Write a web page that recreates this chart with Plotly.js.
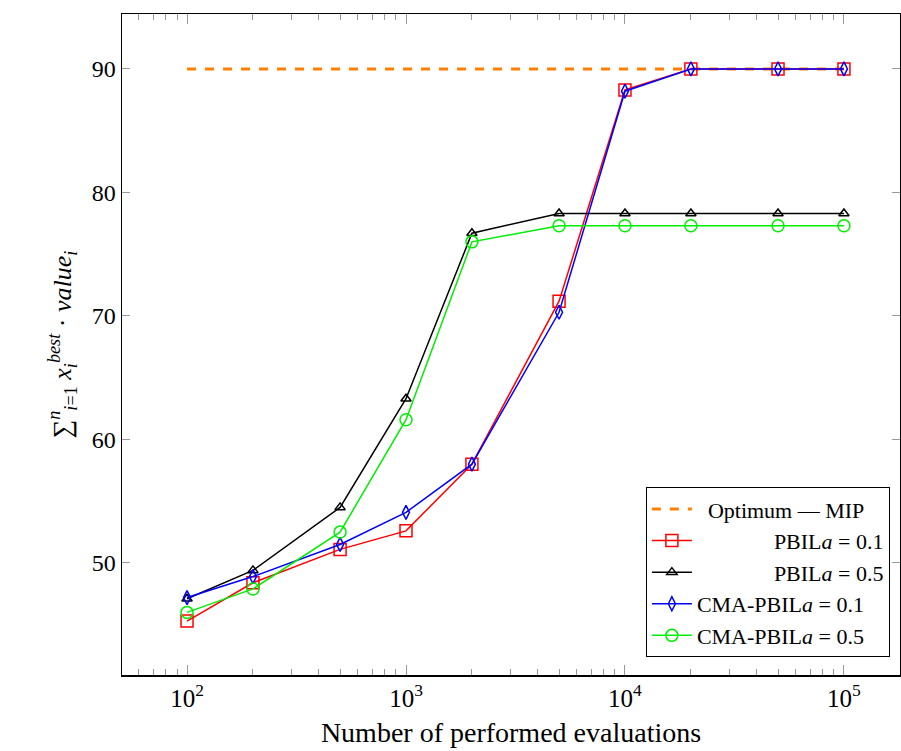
<!DOCTYPE html>
<html>
<head>
<meta charset="utf-8">
<script src="https://cdn.plot.ly/plotly-3.0.1.min.js"></script>
<style>body{margin:0;padding:0;background:#fff;}#chart{width:901px;height:751px;}</style>
</head>
<body>
<div id="chart"></div>
<script>
const evaluations = [100, 200, 500, 1000, 2000, 5000, 10000, 20000, 50000, 100000];
const optimumX = [100, 100000];
const optimumY = [90, 90];
const pbil01 = [45.3, 48.4, 51.1, 52.6, 58.0, 71.2, 88.3, 90.0, 90.0, 90.0];
const pbil05 = [47.1, 49.4, 54.5, 63.3, 76.7, 78.3, 78.3, 78.3, 78.3, 78.3];
const cma01 = [47.2, 48.9, 51.5, 54.1, 58.0, 70.3, 88.2, 90.0, 90.0, 90.0];
const cma05 = [46.0, 47.9, 52.5, 61.6, 76.0, 77.3, 77.3, 77.3, 77.3, 77.3];
const xTickVals = [100, 1000, 10000, 100000];
const xTickText = ['10<sup>2</sup>', '10<sup>3</sup>', '10<sup>4</sup>', '10<sup>5</sup>'];
const yTickVals = [50, 60, 70, 80, 90];
const minorX = [];
[10, 100, 1000, 10000, 100000].forEach(d => { for (let k = 2; k <= 9; k++) minorX.push(d * k); });

const font = 'Liberation Serif, DejaVu Serif, serif';
const nb = '\u00a0';
const traces = [
  {x: optimumX, y: optimumY, mode: 'lines', name: nb + nb + 'Optimum — MIP',
   line: {color: '#ff8000', width: 3, dash: 'dash'}},
  {x: evaluations, y: pbil01, mode: 'lines+markers', name: nb.repeat(14) + 'PBIL<i>a</i> = 0.1',
   line: {color: '#ff0000', width: 1.5}, marker: {symbol: 'square-open', size: 12, color: '#ff0000', line: {width: 1.5}}},
  {x: evaluations, y: pbil05, mode: 'lines+markers', name: nb.repeat(14) + 'PBIL<i>a</i> = 0.5',
   line: {color: '#000000', width: 1.5}, marker: {symbol: 'triangle-up-open', size: 9, color: '#000000', line: {width: 1.5}}},
  {x: evaluations, y: cma01, mode: 'lines+markers', name: 'CMA-PBIL<i>a</i> = 0.1',
   line: {color: '#0000ff', width: 1.5}, marker: {symbol: 'diamond-tall-open', size: 10, color: '#0000ff', line: {width: 1.5}}},
  {x: evaluations, y: cma05, mode: 'lines+markers', name: 'CMA-PBIL<i>a</i> = 0.5',
   line: {color: '#00ee00', width: 1.5}, marker: {symbol: 'circle-open', size: 12, color: '#00ee00', line: {width: 1.5}}}
];

const layout = {
  width: 901, height: 751,
  margin: {l: 122, r: 1, t: 14, b: 76, autoexpand: false},
  paper_bgcolor: '#fff', plot_bgcolor: '#fff',
  font: {family: font, color: '#000', size: 22},
  showlegend: true,
  legend: {x: 0.987, y: 0.027, xanchor: 'right', yanchor: 'bottom',
           bordercolor: '#000', borderwidth: 1, bgcolor: '#fff',
           font: {family: font, size: 22}, tracegroupgap: 0, itemwidth: 40},
  xaxis: {
    type: 'log', range: [Math.log10(100) - 0.297, 5.256], automargin: false,
    tickmode: 'array', tickvals: xTickVals, ticktext: xTickText,
    ticks: 'inside', ticklen: 10, tickcolor: '#999', tickwidth: 1,
    minor: {tickmode: 'array', tickvals: minorX, ticks: 'inside', ticklen: 6, tickcolor: '#999', tickwidth: 1, showgrid: false},
    showline: true, linecolor: '#000', linewidth: 1.5, mirror: 'allticks',
    showgrid: false, zeroline: false,
    tickfont: {size: 25},
    title: {text: 'Number of performed evaluations', font: {size: 28}, standoff: 12}
  },
  yaxis: {
    range: [40.93, 94.45], automargin: false,
    tickmode: 'array', tickvals: yTickVals,
    ticks: 'inside', ticklen: 8, tickcolor: '#999', tickwidth: 1,
    showline: true, linecolor: '#000', linewidth: 1.5, mirror: 'allticks',
    showgrid: false, zeroline: false,
    tickfont: {size: 24},
    title: {text: '∑<sup><i>n</i></sup><sub><i>i</i>=1</sub> <i>x</i><sub><i>i</i></sub><sup><i>best</i></sup> · <i>value</i><sub><i>i</i></sub>', font: {size: 26}, standoff: 12}
  }
};
Plotly.newPlot('chart', traces, layout, {displayModeBar: false, staticPlot: true});
</script>
</body>
</html>
